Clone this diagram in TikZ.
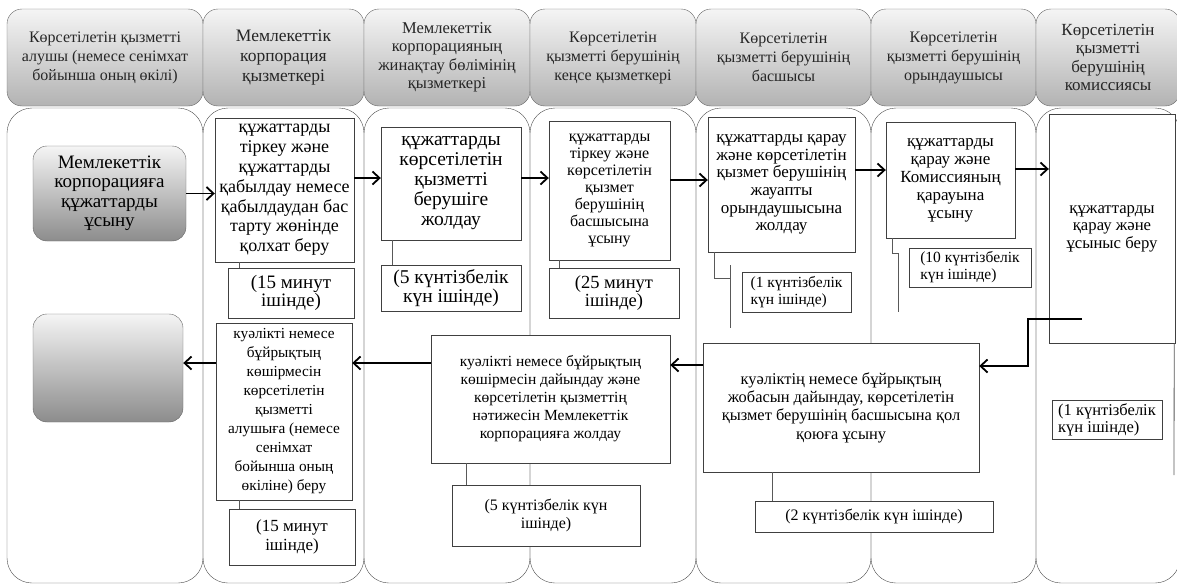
\documentclass[tikz,border=0pt]{standalone}
\usepackage{fontspec}
\setmainfont{Liberation Serif}
\usetikzlibrary{arrows.meta}

\begin{document}
\begin{tikzpicture}[
    x=1pt,y=-1pt,
    textsize/.style 2 args={
      font=\fontsize{#1}{#2}\selectfont
    },
    lanehead/.style={
      draw=black!60,rounded corners=15pt,inner sep=0pt,
      top color=black!4,bottom color=black!30,
      minimum height=97pt,align=center,text=black!85,
      textsize={16}{19}
    },
    laneback/.style={
      draw=black!70,rounded corners=25pt,inner sep=0pt,
      minimum height=475pt
    },
    stepbox/.style={
      draw=black!75,fill=white,inner sep=0pt,
      align=center,text=black,
      textsize={17}{19}
    },
    timebox/.style={
      stepbox
    },
    graybox/.style={
      stepbox,
      draw=black!60,rounded corners=14pt,
      top color=black!4,bottom color=black!45
    },
    flow/.style={
      line width=1.8pt,-{Straight Barb[length=7pt,width=13pt]}
    },
    tie/.style={
      draw=black!65,line width=0.8pt
    }]
      \useasboundingbox (0,0) rectangle (1177,587);
      \clip (0,0) rectangle (1177,587);

      % lanes
      \node[laneback,minimum width=196pt] (lane1) at (105,345.5) {};
      \node[laneback,minimum width=161pt] (lane2) at (283.5,345.5) {};
      \node[laneback,minimum width=166pt] (lane3) at (447,345.5) {};
      \node[laneback,minimum width=166pt] (lane4) at (613,345.5) {};
      \node[laneback,minimum width=175pt] (lane5) at (783.5,345.5) {};
      \node[laneback,minimum width=165pt] (lane6) at (953.5,345.5) {};
      \node[laneback,minimum width=144pt] (lane7) at (1108,345.5) {};

      % headers
      \node[lanehead,minimum width=196pt] (head1) at (105,57.5)
        {Көрсетілетін қызметті\\алушы (немесе сенімхат\\бойынша оның өкілі)};
      \node[lanehead,minimum width=161pt,textsize={17.5}{20}] (head2) at (283.5,57.5)
        {Мемлекеттік\\корпорация\\қызметкері};
      \node[lanehead,minimum width=166pt,textsize={16.5}{18.5}] (head3) at (447,57.5)
        {Мемлекеттік\\корпорацияның\\жинақтау бөлімінің\\қызметкері};
      \node[lanehead,minimum width=166pt] (head4) at (613,57.5)
        {Көрсетілетін\\қызметті берушінің\\кеңсе қызметкері};
      \node[lanehead,minimum width=175pt] (head5) at (783.5,57.5)
        {Көрсетілетін\\қызметті берушінің\\басшысы};
      \node[lanehead,minimum width=165pt] (head6) at (953.5,57.5)
        {Көрсетілетін\\қызметті берушінің\\орындаушысы};
      \node[lanehead,minimum width=144pt,textsize={17}{18.5}] (head7) at (1108,57.5)
        {Көрсетілетін\\қызметті\\берушінің\\комиссиясы};

      % steps, upper row
      \node[graybox,minimum width=153pt,minimum height=95pt,textsize={19}{19.5}] (submit) at (109.5,193.5)
        {Мемлекеттік\\корпорацияға\\құжаттарды\\ұсыну};
      \node[stepbox,minimum width=139pt,minimum height=144pt,textsize={18}{19.8}] (accept) at (284.5,190)
        {құжаттарды\\тіркеу және\\құжаттарды\\қабылдау немесе\\қабылдаудан бас\\тарту жөнінде\\қолхат беру};
      \node[timebox,minimum width=126pt,minimum height=50pt,textsize={19}{18}] (accepttime) at (291,293)
        {(15 минут\\ішінде)};
      \node[stepbox,minimum width=140pt,minimum height=113pt,textsize={19.5}{20}] (pass) at (451,183.5)
        {құжаттарды\\көрсетілетін\\қызметті\\берушіге\\жолдау};
      \node[timebox,minimum width=140pt,minimum height=46pt,textsize={19.5}{19}] (passtime) at (451,288)
        {(5 күнтізбелік\\күн ішінде)};
      \node[stepbox,minimum width=121pt,minimum height=139pt,textsize={16}{17}] (office) at (609.5,190.5)
        {құжаттарды\\тіркеу және\\көрсетілетін\\қызмет\\берушінің\\басшысына\\ұсыну};
      \node[timebox,minimum width=130pt,minimum height=50pt,textsize={18.5}{18.5}] (officetime) at (614,293)
        {(25 минут\\ішінде)};
      \node[stepbox,minimum width=147pt,minimum height=135pt,textsize={17}{17.7}] (assign) at (781.5,184.5)
        {құжаттарды қарау\\және көрсетілетін\\қызмет берушінің\\жауапты\\орындаушысына\\жолдау};
      \node[timebox,align=left,minimum width=109pt,minimum height=40pt,textsize={15.5}{17}] (assigntime) at (796.5,292)
        {(1 күнтізбелік\\күн ішінде)};
      \node[stepbox,minimum width=129pt,minimum height=116pt,textsize={17}{18}] (review) at (950.5,180)
        {құжаттарды\\қарау және\\Комиссияның\\қарауына\\ұсыну};
      \node[timebox,align=left,minimum width=122pt,minimum height=39pt,textsize={15.5}{17}] (reviewtime) at (970,267.5)
        {(10 күнтізбелік\\күн ішінде)};
      \node[stepbox,minimum width=126pt,minimum height=229pt,textsize={16.7}{17.5}] (panel) at (1112,228.5)
        {құжаттарды\\қарау және\\ұсыныс беру};
      \node[timebox,align=left,minimum width=110pt,minimum height=39pt,textsize={16.5}{17}] (paneltime) at (1107,419.5)
        {(1 күнтізбелік\\күн ішінде)};

      % steps, lower row
      \node[stepbox,minimum width=276pt,minimum height=129pt,textsize={16.4}{18.3}] (draft) at (841,407.5)
        {куәліктің немесе бұйрықтың\\жобасын дайындау, көрсетілетін\\қызмет берушінің басшысына қол\\қоюға ұсыну};
      \node[timebox,minimum width=238pt,minimum height=31pt,textsize={16}{18}] (drafttime) at (874,516.5)
        {(2 күнтізбелік күн ішінде)};
      \node[stepbox,minimum width=239pt,minimum height=128pt,textsize={15.5}{18}] (dispatch) at (550.5,399)
        {куәлікті немесе бұйрықтың\\көшірмесін дайындау және\\көрсетілетін қызметтің\\нәтижесін Мемлекеттік\\корпорацияға жолдау};
      \node[timebox,minimum width=188pt,minimum height=61pt,textsize={16}{17.5}] (dispatchtime) at (546,515.5)
        {(5 күнтізбелік күн\\ішінде)};
      \node[stepbox,minimum width=136pt,minimum height=177pt,textsize={15.3}{19}] (handout) at (284,411.5)
        {куәлікті немесе\\бұйрықтың\\көшірмесін\\көрсетілетін\\қызметті\\алушыға (немесе\\сенімхат\\бойынша оның\\өкіліне) беру};
      \node[timebox,minimum width=126pt,minimum height=56pt] (handouttime) at (292,537)
        {(15 минут\\ішінде)};
      \node[graybox,minimum width=150pt,minimum height=108pt] (issue) at (108,368) {};

      % ties to the time boxes
      \coordinate (assigntop) at (730,265);
      \coordinate (assignjog) at (730,278);
      \coordinate (assignend) at (730,328);
      \coordinate (reviewjog) at (898,253);
      \coordinate (reviewend) at (898,312);
      \coordinate (panelend) at (1174,475);
      \draw[tie] ([xshift=25pt]accept.south west) -- ([xshift=25pt]accept.south west |- accepttime.north);
      \draw[tie] ([xshift=12pt]pass.south west) -- ([xshift=12pt]pass.south west |- passtime.north);
      \draw[tie] ([xshift=11pt]office.south west) -- ([xshift=11pt]office.south west |- officetime.north);
      \draw[tie] ([xshift=7pt]assign.south west) |- (assignjog);
      \draw[tie] (assigntop) -- (assignend);
      \draw[tie] ([xshift=7pt]review.south west) |- (reviewjog) -- (reviewend);
      \draw[tie] ([xshift=-1pt]panel.south east) -- (panelend);
      \draw[tie] ([xshift=70pt]draft.south west) -- ([xshift=70pt]draft.south west |- drafttime.north);
      \draw[tie] ([xshift=36pt]dispatch.south west) -- ([xshift=36pt]dispatch.south west |- dispatchtime.north);
      \draw[tie] ([xshift=24pt]handout.south west) -- ([xshift=24pt]handout.south west |- handouttime.north);

      % flow
      \coordinate (panelout) at (1082,319);
      \draw[flow] (submit.east) -- (submit.east -| accept.west);
      \draw[flow] ([yshift=12pt]accept.east) -- ([yshift=12pt]accept.east -| pass.west);
      \draw[flow] ([yshift=5.5pt]pass.east) -- ([yshift=5.5pt]pass.east -| office.west);
      \draw[flow] ([yshift=10.5pt]office.east) -- ([yshift=10.5pt]office.east -| assign.west);
      \draw[flow] ([yshift=14.5pt]assign.east) -- ([yshift=14.5pt]assign.east -| review.west);
      \draw[flow] ([yshift=11pt]review.east) -- ([yshift=11pt]review.east -| panel.west);
      \draw[flow] (panelout) -| ([xshift=49pt,yshift=41.5pt]draft.east) -- ([yshift=41.5pt]draft.east);
      \draw[flow] ([yshift=42.5pt]draft.west) -- ([yshift=42.5pt]draft.west -| dispatch.east);
      \draw[flow] ([yshift=36pt]dispatch.west) -- ([yshift=36pt]dispatch.west -| handout.east);
      \draw[flow] ([yshift=48.5pt]handout.west) -- ([yshift=48.5pt]handout.west -| issue.east);
  \end{tikzpicture}
\end{document}
